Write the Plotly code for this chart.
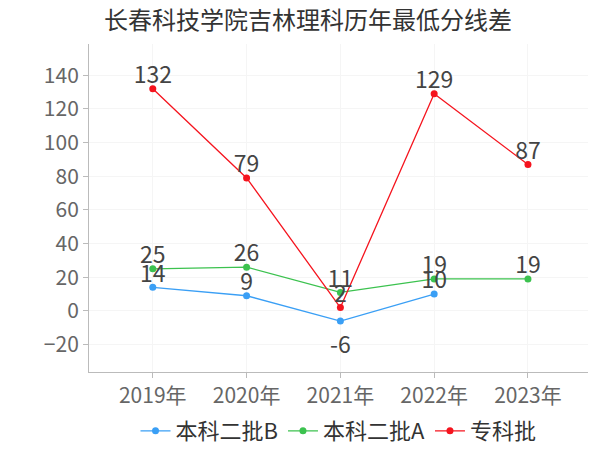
import plotly.graph_objects as go

years = ["2019年", "2020年", "2021年", "2022年", "2023年"]
series_names = ["本科二批B", "本科二批A", "专科批"]
vals_b = [14, 9, -6, 10, None]
vals_a = [25, 26, 11, 19, 19]
vals_zk = [132, 79, 2, 129, 87]
colors = ["#3a9ff5", "#3cc24f", "#f5141e"]
title = "长春科技学院吉林理科历年最低分线差"

FONT = "Noto Sans CJK SC, Noto Sans, sans-serif"
fig = go.Figure()
xs = list(range(len(years)))
for name, vals, c in zip(series_names, [vals_b, vals_a, vals_zk], colors):
    px = [x for x, v in zip(xs, vals) if v is not None]
    pv = [v for v in vals if v is not None]
    fig.add_trace(go.Scatter(
        x=px, y=pv, name=name, mode="lines+markers",
        line=dict(color=c, width=1.3), marker=dict(color=c, size=7),
        cliponaxis=False,
    ))
for name, vals, c in zip(series_names, [vals_b, vals_a, vals_zk], colors):
    px = [x for x, v in zip(xs, vals) if v is not None]
    pv = [v for v in vals if v is not None]
    tp = ["bottom center" if v < 0 else "top center" for v in pv]
    sizes = [22 if v < 0 else 0 for v in pv]
    fig.add_trace(go.Scatter(
        x=px, y=pv, name=name, mode="markers+text", showlegend=False,
        marker=dict(size=sizes, opacity=0),
        text=[str(v) for v in pv], textposition=tp,
        textfont=dict(size=23, color="#444444", family=FONT),
        cliponaxis=False, hoverinfo="skip",
    ))

fig.update_layout(
    width=600, height=450,
    paper_bgcolor="white", plot_bgcolor="white",
    margin=dict(l=81, r=20, t=36, b=86, autoexpand=False),
    font=dict(family=FONT, color="#666666"),
    title=dict(text=title, x=0.5, xanchor="center", y=0.972, yanchor="middle",
               font=dict(size=24, color="#333333", family=FONT)),
    legend=dict(orientation="h", x=0.5, xanchor="center",
                yref="container", y=0.06, yanchor="middle",
                font=dict(size=22, color="#333333", family=FONT),
                itemwidth=30),
    showlegend=True,
)
fig.update_xaxes(
    tickmode="array", tickvals=xs, ticktext=years, range=[-0.68, 4.64],
    showline=True, linecolor="#bbbbbb", linewidth=1,
    ticks="outside", tickcolor="#bbbbbb", ticklen=5,
    showgrid=True, gridcolor="#f5f5f5", zeroline=False,
    tickfont=dict(size=21, color="#666666"), automargin=False,
)
fig.update_yaxes(
    tickmode="array", tickvals=[-20, 0, 20, 40, 60, 80, 100, 120, 140],
    range=[-36.3, 158.6],
    showline=True, linecolor="#bbbbbb", linewidth=1,
    ticks="outside", tickcolor="#bbbbbb", ticklen=5,
    showgrid=True, gridcolor="#f5f5f5", zeroline=False,
    tickfont=dict(size=21, color="#666666"), automargin=False,
)
fig.write_html("out.html")
